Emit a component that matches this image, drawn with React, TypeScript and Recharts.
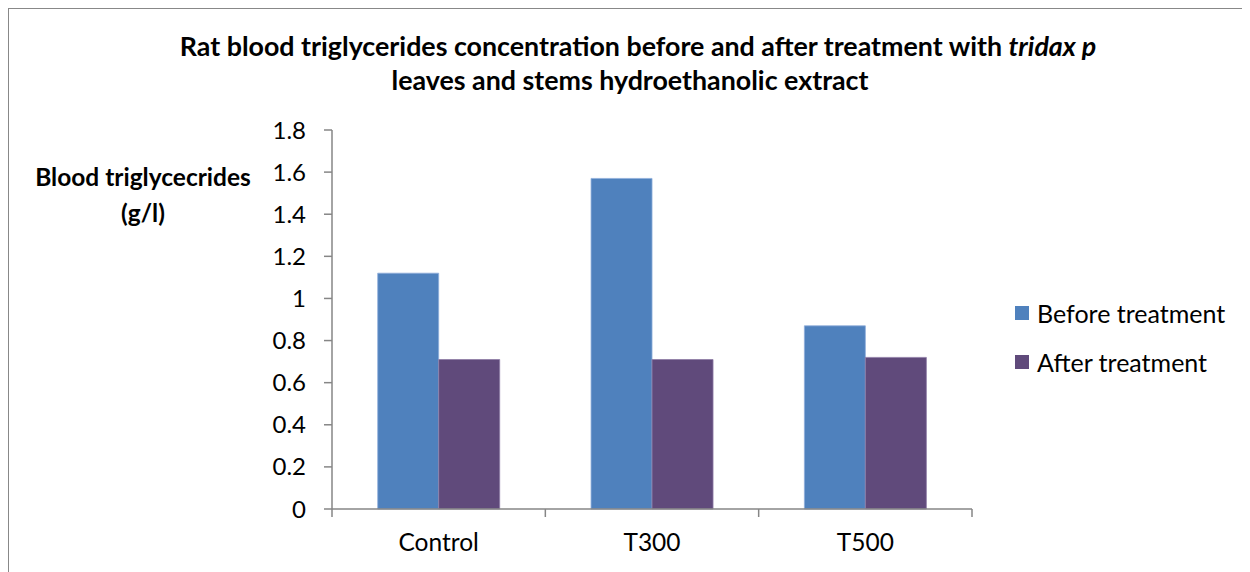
import React from 'react';
import { BarChart, Bar, XAxis, YAxis } from 'recharts';

const categories = ['Control', 'T300', 'T500'];
const beforeTreatment = [1.12, 1.57, 0.87];
const afterTreatment = [0.71, 0.71, 0.72];
const seriesNames = ['Before treatment', 'After treatment'];
const seriesKeys = ['before', 'after'];
const seriesColors = ['#4F81BD', '#604A7B'];
const seriesEdges = ['#8FAEDA', '#8E7CA6'];
const yTicks = [0, 0.2, 0.4, 0.6, 0.8, 1, 1.2, 1.4, 1.6, 1.8];

const data = categories.map((c, i) => ({
  name: c,
  before: beforeTreatment[i],
  after: afterTreatment[i],
}));

const FONT = 'Lato, "Liberation Sans", sans-serif';
const CHART_W = 1240;
const CHART_H = 563;
const MARGIN = { top: 121, right: 277, bottom: 13, left: 263 };
const YAXIS_W = 60;
const XAXIS_H = 50;
const PLOT_W = CHART_W - MARGIN.left - YAXIS_W - MARGIN.right;
const BAND = PLOT_W / categories.length;
const AXIS_COLOR = '#868686';

const XTick = (props: any) => {
  const { x, y, payload, index } = props;
  const half = BAND / 2;
  return (
    <g>
      {index === 0 && (
        <line x1={x - half} x2={x - half} y1={y} y2={y + 8} stroke={AXIS_COLOR} strokeWidth={1.5} />
      )}
      <line x1={x + half} x2={x + half} y1={y} y2={y + 8} stroke={AXIS_COLOR} strokeWidth={1.5} />
      <text x={x} y={y + 42} textAnchor="middle" fill="#000" fontSize={24.5} fontFamily={FONT}>
        {payload.value}
      </text>
    </g>
  );
};

const titleLine: React.CSSProperties = {
  position: 'absolute',
  width: 1200,
  textAlign: 'center',
  fontFamily: FONT,
  fontWeight: 700,
  fontSize: 26.8,
  lineHeight: '35px',
  color: '#000',
  zIndex: 2,
  whiteSpace: 'nowrap',
};

export default function App() {
  return (
    <div
      style={{
        position: 'relative',
        width: CHART_W,
        height: CHART_H + 20,
        borderTop: '1px solid #888',
        borderLeft: '1px solid #888',
        borderRight: '1px solid #888',
        background: '#fff',
      }}
    >
      <div style={{ ...titleLine, left: 29, top: 20 }}>
        Rat blood triglycerides concentration before and after treatment with <i>tridax p</i>
      </div>
      <div style={{ ...titleLine, left: 21, top: 54 }}>
        leaves and stems hydroethanolic extract
      </div>
      <div
        style={{
          position: 'absolute',
          left: 4,
          top: 150,
          width: 260,
          textAlign: 'center',
          fontFamily: FONT,
          fontWeight: 700,
          fontSize: 24.5,
          lineHeight: '36px',
          color: '#000',
          zIndex: 2,
        }}
      >
        Blood triglycecrides
        <br />
        (g/l)
      </div>
      <div
        style={{
          position: 'absolute',
          left: 1006,
          top: 279,
          fontFamily: FONT,
          zIndex: 2,
        }}
      >
        {seriesNames.map((n, i) => (
          <div key={n} style={{ display: 'flex', alignItems: 'center', height: 49 }}>
            <div style={{ width: 14, height: 14, background: seriesColors[i], marginRight: 8 }} />
            <span style={{ fontSize: 25, color: '#000' }}>{n}</span>
          </div>
        ))}
      </div>
      <BarChart
        width={CHART_W}
        height={CHART_H}
        data={data}
        margin={MARGIN}
        barCategoryGap={45.7}
        barGap={0}
      >
        <XAxis
          dataKey="name"
          height={XAXIS_H}
          axisLine={{ stroke: AXIS_COLOR, strokeWidth: 1.5 }}
          tickLine={false}
          tickSize={0}
          tickMargin={0}
          tick={<XTick />}
          interval={0}
        />
        <YAxis
          width={YAXIS_W}
          domain={[0, 1.8]}
          ticks={yTicks}
          interval={0}
          tickFormatter={(v: number) => String(v)}
          axisLine={{ stroke: AXIS_COLOR, strokeWidth: 1.5 }}
          tickLine={{ stroke: AXIS_COLOR, strokeWidth: 1.5 }}
          tickSize={8}
          tickMargin={18}
          tick={{ fill: '#000', fontSize: 24, fontFamily: FONT }}
        />
        {seriesKeys.map((k, i) => (
          <Bar
            key={k}
            dataKey={k}
            name={seriesNames[i]}
            fill={seriesColors[i]}
            stroke={seriesEdges[i]}
            strokeWidth={0.8}
            isAnimationActive={false}
          />
        ))}
      </BarChart>
    </div>
  );
}
